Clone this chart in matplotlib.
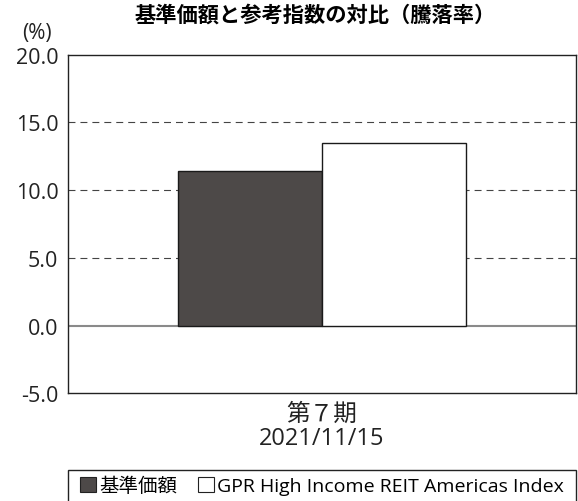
import matplotlib
matplotlib.use("Agg")
import matplotlib.pyplot as plt
from matplotlib.patches import Patch, Rectangle

plt.rcParams['font.family'] = ['Open Sans', 'Noto Sans CJK JP', 'DejaVu Sans']
plt.rcParams['lines.scale_dashes'] = False

title = "基準価額と参考指数の対比（騰落率）"
period = "第７期\n2021/11/15"
series = ["基準価額", "GPR High Income REIT Americas Index"]
values = [11.4, 13.46]
colors = ["#4d4948", "#ffffff"]
yticks = [-5.0, 0.0, 5.0, 10.0, 15.0, 20.0]

fig = plt.figure(figsize=(5.78, 5.02), dpi=100)
ax = fig.add_axes([0.118, 0.2145, 0.8785, 0.6745])

w = 0.283
ax.bar(-w / 2, values[0], width=w, color=colors[0], edgecolor="#1a1a1a", linewidth=1.0, zorder=3)
ax.bar(w / 2, values[1], width=w, color=colors[1], edgecolor="#1a1a1a", linewidth=1.0, zorder=3)

for y in [5, 10, 15]:
    ax.axhline(y, color="#444444", linewidth=0.8, dashes=(5, 3.6), zorder=1)
ax.axhline(0, color="#8a8a8a", linewidth=1.5, zorder=2)

ax.set_xlim(-0.5, 0.5)
ax.set_ylim(-5, 20)
ax.set_yticks(yticks)
ax.set_yticklabels([f"{v:.1f}" for v in yticks], fontsize=15.5, color="#222222")
ax.set_xticks([0])
ax.set_xticklabels([period], fontsize=17, color="#222222", linespacing=1.0)
ax.tick_params(axis="y", length=0, pad=7)
ax.tick_params(axis="x", length=0, pad=6)
for s in ax.spines.values():
    s.set_color("#222222")
    s.set_linewidth(1.0)

fig.text(0.546, 0.967, title, ha="center", va="center", fontsize=15.3, fontweight="bold")
fig.text(0.064, 0.933, "(%)", ha="center", va="center", fontsize=15, color="#222222")

fig.patches.append(Rectangle((0.118, -0.01), 0.8785, 0.072, transform=fig.transFigure,
                             facecolor="none", edgecolor="#222222", linewidth=1.0))
handles = [Patch(facecolor=colors[0], edgecolor="#222222", linewidth=0.8),
           Patch(facecolor=colors[1], edgecolor="#222222", linewidth=0.8)]
fig.legend(handles, series, loc="center", bbox_to_anchor=(0.557, 0.030), ncol=2,
           frameon=False, fontsize=14, handlelength=0.8, handleheight=0.8,
           handletextpad=0.15, columnspacing=1.1, borderpad=0)

fig.savefig("out.png", dpi=100)
